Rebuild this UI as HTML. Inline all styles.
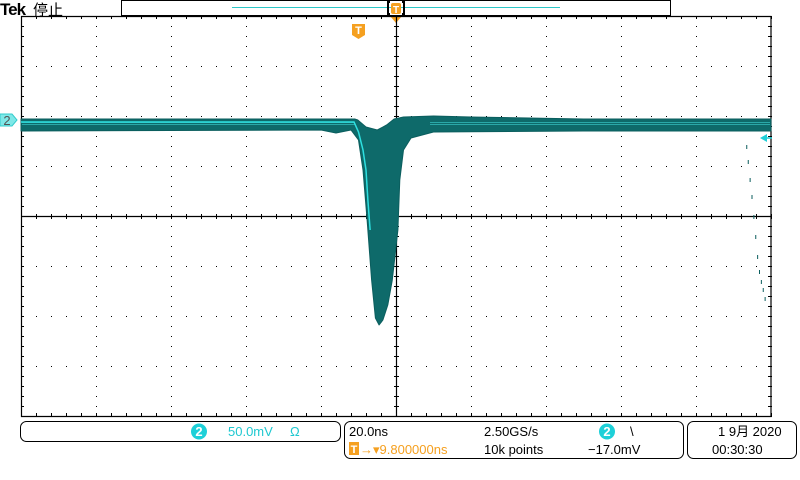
<!DOCTYPE html>
<html><head><meta charset="utf-8"><style>
body{margin:0;background:#fff;width:800px;height:480px;overflow:hidden;font-family:"Liberation Sans","Noto Sans CJK SC",sans-serif;}
svg{position:absolute;left:0;top:0}
</style></head><body>
<svg id="scope" width="800" height="480">
<text x="0" y="15" font-family="Liberation Sans,sans-serif" font-weight="bold" font-size="17" letter-spacing="-1">Tek</text>
<text x="33" y="15" font-family="Liberation Sans,Noto Sans CJK SC,sans-serif" font-size="15">停止</text>
<g>
<rect x="121.5" y="0.5" width="549" height="15" fill="#fff" stroke="#000"/>
<line x1="232" y1="7.5" x2="560" y2="7.5" stroke="#2cc8c8"/>
<path d="M390 2 h-2 v12 h2 M402 2 h2 v12 h-2" fill="none" stroke="#000" stroke-width="2"/>
<rect x="391" y="3" width="10" height="11" rx="2" fill="#f5a020"/>
<text x="396" y="13" font-size="10" fill="#fff" text-anchor="middle" font-weight="bold">T</text>
</g>
<path d="M390 16 L402 16 L396 23 Z" fill="#f5a020"/>
<g>
<path d="M352 24 h13 v11 l-6.5 4 l-6.5 -4 Z" fill="#f5a020"/>
<text x="358.5" y="34" font-size="11" fill="#fff" text-anchor="middle" font-weight="bold">T</text>
</g>
<g id="grid"></g>
<g id="wave"></g>
<g>
<path d="M0 114 h12 l5 6 l-5 6 h-12 Z" fill="#7ee8e8" stroke="#3cc" stroke-width="1"/>
<text x="7" y="125" font-size="13" fill="#555" text-anchor="middle">2</text>
</g>
<path d="M760 138 l7 -4 v8 Z" fill="#1ed0d8"/>
<line x1="765" y1="138" x2="772" y2="138" stroke="#1ed0d8" stroke-width="1.5"/>
<g font-size="13">
<rect x="20.5" y="421.5" width="320" height="20" rx="6" fill="#fff" stroke="#000"/>
<circle cx="199" cy="431.5" r="8" fill="#1ed0d8"/>
<text x="199" y="436" fill="#fff" font-weight="bold" text-anchor="middle">2</text>
<text x="228" y="436" fill="#1ec8d0">50.0mV</text>
<text x="290" y="436" fill="#1ec8d0">Ω</text>
<rect x="344.5" y="421.5" width="339" height="37" rx="6" fill="#fff" stroke="#000"/>
<text x="349" y="436">20.0ns</text>
<text x="484" y="436">2.50GS/s</text>
<circle cx="607" cy="431.5" r="8" fill="#1ed0d8"/>
<text x="607" y="436" fill="#fff" font-weight="bold" text-anchor="middle">2</text>
<text x="630" y="436">\</text>
<rect x="349" y="442" width="10" height="13" fill="#f5a020"/>
<text x="354" y="453" font-size="11" fill="#fff" text-anchor="middle" font-weight="bold">T</text>
<text x="360" y="454" fill="#f5a020">→▾9.800000ns</text>
<text x="484" y="454">10k points</text>
<text x="588" y="454">−17.0mV</text>
<rect x="687.5" y="421.5" width="109" height="37" rx="6" fill="#fff" stroke="#000"/>
<text x="718" y="436">1 9月 2020</text>
<text x="712" y="454">00:30:30</text>
</g>
</svg>
<script>
// waveform envelope in (ns, mV) relative to trigger center & ground marker
const outlineT=[-100,-16,-11,-10.2,-8,-5,-2.5,-0.5,2,10,20,50,100,100,50,10,4,2,1,0.5,-1,-2.2,-3.5,-4.5,-5.5,-6.5,-7.7,-8.8,-10,-12,-16,-20,-100];
const outlineV=[1,1,1,0,-7,-10,-5,1,3,4,3,1,1,-11,-11,-12,-18,-30,-60,-110,-160,-185,-200,-205,-198,-160,-100,-50,-20,-10,-13,-10,-11];
const traceT=[-100,-11.2,-10,-8.8,-8,-7.5,-6.9];
const traceV=[-2,-2,-12,-30,-50,-80,-110];
const tailT=[93.4,93.8,94.3,94.8,95.3,95.8,96.3,96.8,97.3,97.8,98.3];
const tailV=[-25,-40,-58,-75,-95,-115,-135,-150,-160,-168,-177];
const X=t=>396+t*75/20, Y=v=>120-v*50/50;
const NS="http://www.w3.org/2000/svg";
const grid=document.getElementById('grid'), wave=document.getElementById('wave');
function mk(tag,a,p){const e=document.createElementNS(NS,tag);for(const k in a)e.setAttribute(k,a[k]);p.appendChild(e);return e;}
let d='';
for(let i=0;i<=10;i++){const x=21+75*i;for(let y=16;y<=416;y+=10)d+=`M${x} ${y}h1v1h-1z`;}
for(let j=0;j<=8;j++){const y=16+50*j;for(let x=21;x<=771;x+=15)d+=`M${x} ${y}h1v1h-1z`;}
for(let y=16;y<=416;y+=10)d+=`M394 ${y}h5v1h-5z M768 ${y}h3v1h-3z M21 ${y}h3v1h-3z`;
for(let x=21;x<=771;x+=15)d+=`M${x} 214h1v5h-1z M${x} 413h1v3h-1z M${x} 16h1v3h-1z`;
const gp=mk('path',{d:d,fill:'#000'},grid);


const fr=mk('path',{d:'M21.5 16 V416.5 H771 V16 M21 16.5 H771.5 M21 216.5 H771 M396.5 16 V416',fill:'none',stroke:'#000','stroke-width':1.2},grid);


let pts=outlineT.map((t,i)=>X(t).toFixed(1)+','+Y(outlineV[i]).toFixed(1)).join(' ');
const env=mk('polygon',{points:pts,fill:'#0e6a6a',stroke:'#0b5e5e','stroke-width':1,'stroke-linejoin':'round'},wave);


[-2,-4].forEach(v=>{const l=mk('line',{x1:22,x2:355,y1:Y(v)+.5,y2:Y(v)+.5,stroke:'#2aa8a8','stroke-width':1},wave);


const l2=mk('line',{x1:430,x2:770,y1:Y(v)+.5,y2:Y(v)+.5,stroke:'#2aa8a8','stroke-width':1},wave);

});
const tr=mk('polyline',{points:traceT.map((t,i)=>X(t)+','+Y(traceV[i])).join(' '),fill:'none',stroke:'#2ee0e0','stroke-width':1.5},wave);


tailT.forEach((t,i)=>{const r=mk('rect',{x:X(t),y:Y(tailV[i]),width:1,height:4,fill:'#0b5e5e'},wave);

});
</script>
</body></html>
